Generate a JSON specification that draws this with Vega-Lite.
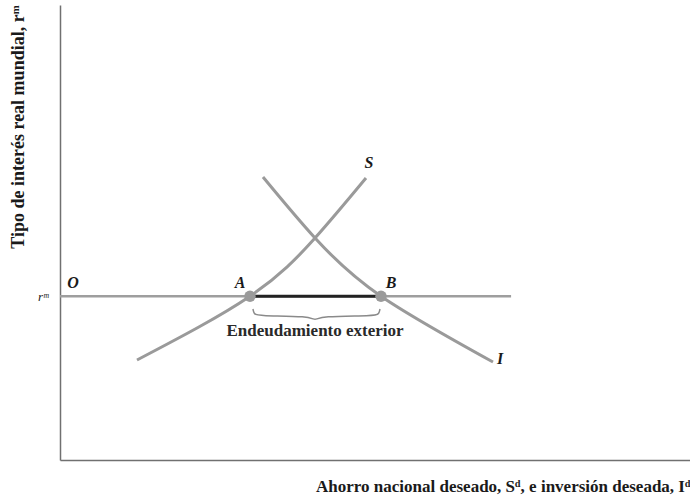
{
  "$schema": "https://vega.github.io/schema/vega-lite/v6.json",
  "width": 630,
  "height": 455,
  "autosize": {"type": "none"},
  "padding": {"left": 60, "top": 5, "right": 0, "bottom": 36},
  "background": "white",
  "config": {"view": {"stroke": null}},
  "datasets": {
    "curves": [
      {"curve": "S", "x": 12.22, "y": 21.98},
      {"curve": "S", "x": 30.16, "y": 36.0},
      {"curve": "S", "x": 40.48, "y": 48.79},
      {"curve": "S", "x": 48.57, "y": 61.98},
      {"curve": "I", "x": 32.22, "y": 62.20},
      {"curve": "I", "x": 40.48, "y": 48.79},
      {"curve": "I", "x": 50.95, "y": 36.0},
      {"curve": "I", "x": 68.73, "y": 21.54}
    ],
    "rate": [{"x": 0, "y": 36}, {"x": 71.6, "y": 36}],
    "borrow": [{"x": 30.16, "y": 36}, {"x": 50.95, "y": 36}],
    "brace": [
      {"x": 30.63, "y": 33.19},
      {"x": 30.79, "y": 32.09},
      {"x": 31.43, "y": 31.65},
      {"x": 39.68, "y": 31.65},
      {"x": 40.48, "y": 30.55},
      {"x": 41.27, "y": 31.65},
      {"x": 50.0, "y": 31.65},
      {"x": 50.63, "y": 32.09},
      {"x": 50.79, "y": 33.19}
    ],
    "labels": [
      {"label": "O", "x": 2.06, "y": 38.9},
      {"label": "A", "x": 28.57, "y": 38.9},
      {"label": "B", "x": 52.54, "y": 38.9},
      {"label": "S", "x": 49.05, "y": 65.27},
      {"label": "I", "x": 69.84, "y": 22.2}
    ],
    "note": [{"label": "Endeudamiento exterior", "x": 40.48, "y": 28.3}]
  },
  "layer": [
    {
      "data": {"name": "rate"},
      "mark": {"type": "line", "color": "#9e9e9e", "strokeWidth": 2.5},
      "encoding": {
        "x": {"field": "x", "type": "quantitative", "scale": {"domain": [0, 100], "nice": false},
          "axis": {"domain": true, "domainColor": "#707070", "domainWidth": 1.5, "ticks": false, "labels": false, "grid": false,
            "title": "Ahorro nacional deseado, Sᵈ, e inversión deseada, Iᵈ",
            "titleAnchor": "end", "titleFont": "Liberation Serif", "titleFontSize": 17, "titleFontWeight": "bold", "titleColor": "#1a1a1a", "titlePadding": 18}},
        "y": {"field": "y", "type": "quantitative", "scale": {"domain": [0, 100], "nice": false},
          "axis": {"domain": true, "domainColor": "#707070", "domainWidth": 1.5, "ticks": false, "grid": false,
            "values": [36], "labelExpr": "'rᵐ'", "labelFont": "Liberation Serif", "labelFontStyle": "italic", "labelFontSize": 13, "labelColor": "#1a1a1a", "labelPadding": 12,
            "title": "Tipo de interés real mundial, rᵐ",
            "titleAnchor": "end", "titleFont": "Liberation Serif", "titleFontSize": 18, "titleFontWeight": "bold", "titleColor": "#1a1a1a", "titlePadding": 10}}
      }
    },
    {
      "data": {"name": "curves"},
      "mark": {"type": "line", "color": "#9a9a9a", "strokeWidth": 3, "interpolate": "natural"},
      "encoding": {
        "x": {"field": "x", "type": "quantitative"},
        "y": {"field": "y", "type": "quantitative"},
        "detail": {"field": "curve"}
      }
    },
    {
      "data": {"name": "borrow"},
      "mark": {"type": "line", "color": "#222222", "strokeWidth": 3},
      "encoding": {
        "x": {"field": "x", "type": "quantitative"},
        "y": {"field": "y", "type": "quantitative"}
      }
    },
    {
      "data": {"name": "brace"},
      "mark": {"type": "line", "color": "#8a8a8a", "strokeWidth": 1.5, "interpolate": "basis"},
      "encoding": {
        "x": {"field": "x", "type": "quantitative"},
        "y": {"field": "y", "type": "quantitative"}
      }
    },
    {
      "data": {"name": "borrow"},
      "mark": {"type": "point", "filled": true, "color": "#9a9a9a", "opacity": 1, "size": 130},
      "encoding": {
        "x": {"field": "x", "type": "quantitative"},
        "y": {"field": "y", "type": "quantitative"}
      }
    },
    {
      "data": {"name": "labels"},
      "mark": {"type": "text", "font": "Liberation Serif", "fontStyle": "italic", "fontWeight": "bold", "fontSize": 16, "color": "#1a1a1a"},
      "encoding": {
        "x": {"field": "x", "type": "quantitative"},
        "y": {"field": "y", "type": "quantitative"},
        "text": {"field": "label"}
      }
    },
    {
      "data": {"name": "note"},
      "mark": {"type": "text", "font": "Liberation Serif", "fontWeight": "bold", "fontSize": 17, "color": "#2a2a2a"},
      "encoding": {
        "x": {"field": "x", "type": "quantitative"},
        "y": {"field": "y", "type": "quantitative"},
        "text": {"field": "label"}
      }
    }
  ]
}
